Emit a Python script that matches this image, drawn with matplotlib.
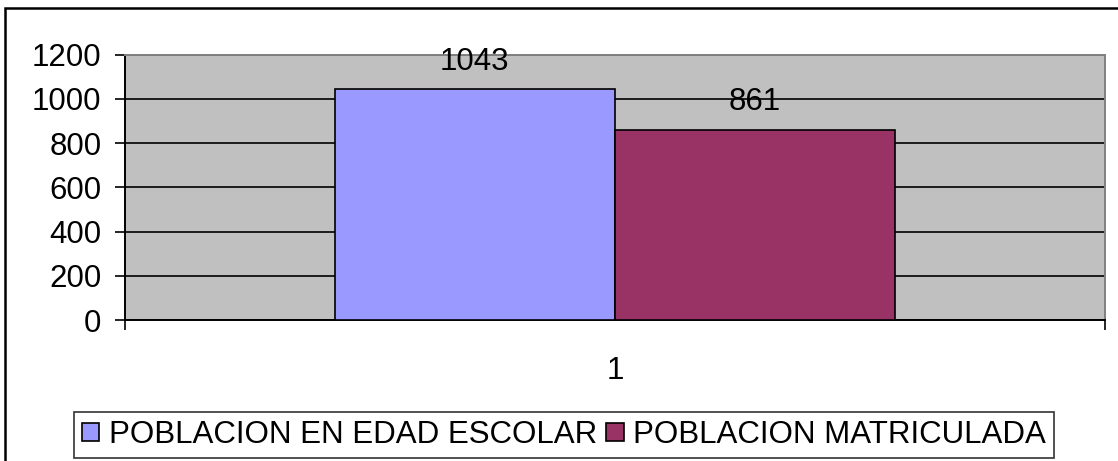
import matplotlib.pyplot as plt
from matplotlib.patches import Rectangle

plt.rcParams['font.family'] = ['Liberation Sans', 'DejaVu Sans']

categories = ['1']
series_names = ['POBLACION EN EDAD ESCOLAR', 'POBLACION MATRICULADA']
series_values = [[1043], [861]]
series_colors = ['#9999FF', '#993366']
y_ticks = [0, 200, 400, 600, 800, 1000, 1200]

W, H = 1118, 461
FS = 22.5
fig = plt.figure(figsize=(W / 100, H / 100), dpi=100)
ax = fig.add_axes([125 / W, (H - 320) / H, 980 / W, 265.5 / H])
ax.set_facecolor('#C0C0C0')

bar_w = 0.286
for i, (name, vals, col) in enumerate(zip(series_names, series_values, series_colors)):
    xs = [k + 1 - bar_w + i * bar_w for k in range(len(categories))]
    bars = ax.bar(xs, vals, width=bar_w, align='edge', color=col,
                  edgecolor='black', linewidth=1.2, label=name, zorder=3)
    for b, v in zip(bars, vals):
        ax.annotate(str(v), (b.get_x() + b.get_width() / 2, v),
                    xytext=(0, 14), textcoords='offset points',
                    ha='center', va='baseline', fontsize=FS, zorder=4)

ax.set_xlim(0.5, len(categories) + 0.5)
ax.set_ylim(0, 1200)
ax.set_yticks(y_ticks)
ax.set_yticklabels([str(t) for t in y_ticks])
ax.yaxis.grid(True, color='black', linewidth=1.2)
ax.set_axisbelow(True)

ax.set_xticks([k + 0.5 for k in range(len(categories) + 1)])
ax.set_xticklabels([])
ax.set_xticks([k + 1 for k in range(len(categories))], minor=True)
ax.set_xticklabels(categories, minor=True)
ax.tick_params(axis='x', which='major', direction='out', length=7, width=1.2)
ax.tick_params(axis='x', which='minor', length=0, pad=26, labelsize=FS)
ax.tick_params(axis='y', direction='out', length=7, width=1.2, pad=10, labelsize=FS)

ax.spines['left'].set_linewidth(1.4)
ax.spines['bottom'].set_linewidth(1.4)
ax.spines['top'].set_color('#808080')
ax.spines['right'].set_color('#808080')
ax.spines['top'].set_linewidth(1.4)
ax.spines['right'].set_linewidth(1.4)

leg = fig.legend(loc='center', bbox_to_anchor=(564 / W, 1 - 435 / H), ncol=2,
                 fontsize=FS, frameon=True, fancybox=False, edgecolor='black',
                 handlelength=0.55, handleheight=0.5, handletextpad=0.3,
                 columnspacing=0.3, borderpad=0.25, borderaxespad=0)
leg.get_frame().set_linewidth(1.2)

fig.patches.append(Rectangle((5 / W, -0.1), 2, 1 - 8 / H + 0.1,
                             transform=fig.transFigure, fill=False,
                             edgecolor='black', linewidth=1.8))

fig.savefig('out.png', dpi=100, facecolor='white')
